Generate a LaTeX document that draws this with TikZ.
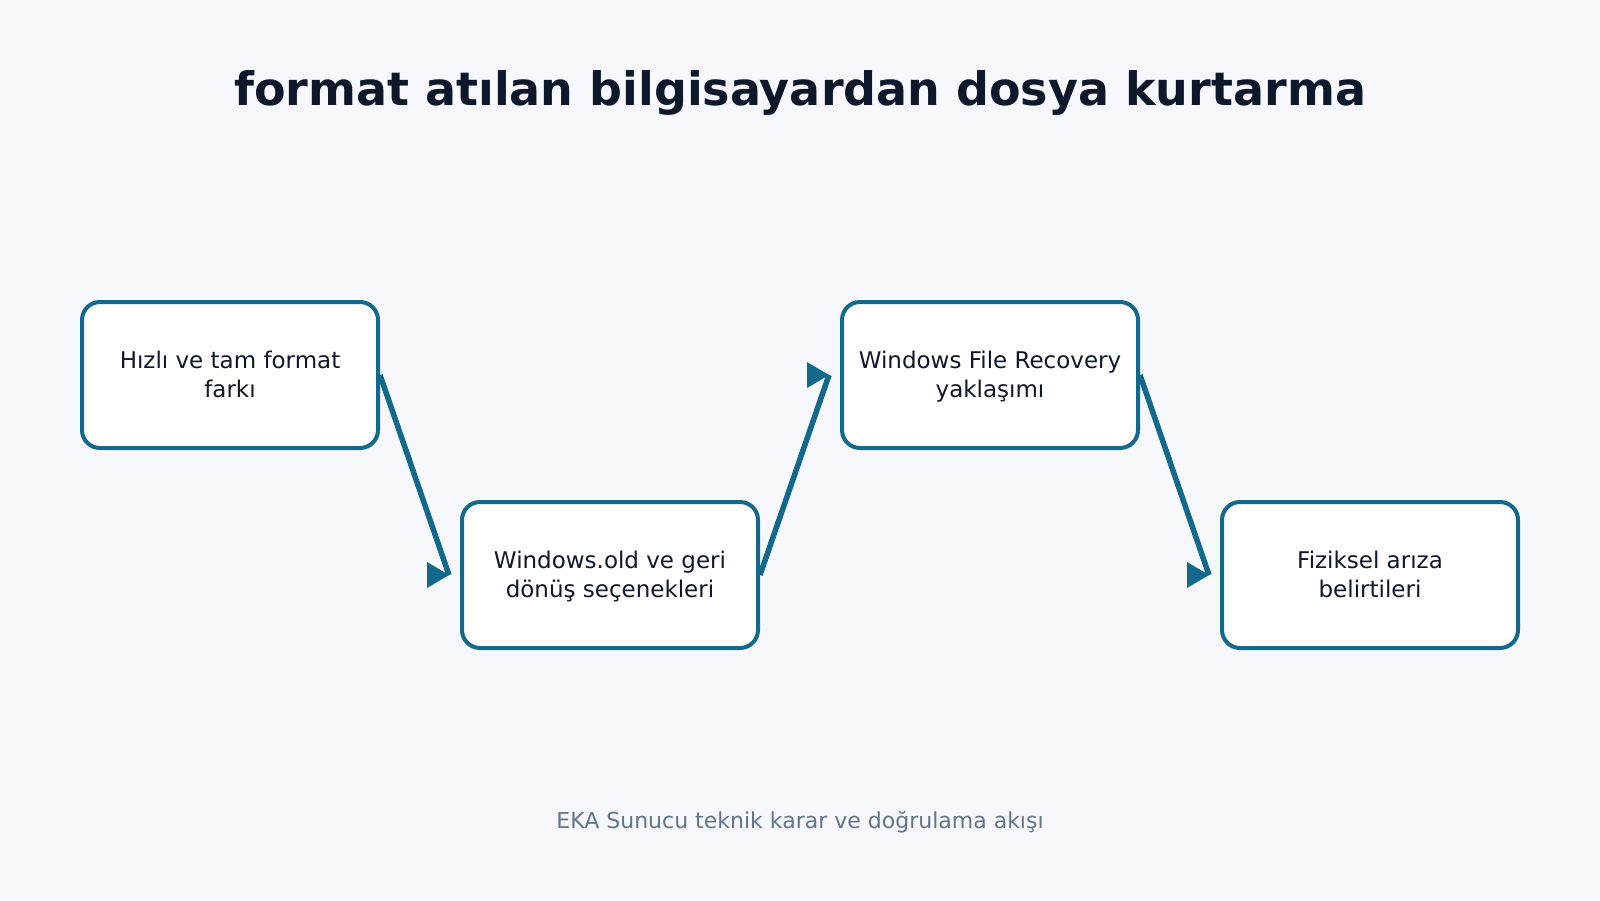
\documentclass[tikz,border=0pt]{standalone}
\usepackage{fontspec}
\setmainfont{DejaVu Sans}
\usetikzlibrary{calc}
\definecolor{bg}{HTML}{F6F8FB}
\definecolor{edge}{HTML}{12698C}
\definecolor{ink}{HTML}{0F172A}
\definecolor{muted}{HTML}{64748B}
\tikzset{
  stepbox/.style={draw=edge, line width=4pt, fill=white, rounded corners=18pt,
    minimum width=296pt, minimum height=146pt, inner sep=0pt, align=center,
    text=ink, font=\fontsize{23}{28.6}\selectfont},
  conn/.style={draw=edge, line width=5.5pt},
  tipfill/.style={fill=edge},
}
\newcommand{\bl}[2]{\rule[-8.58pt]{0pt}{32.6pt}#1\\\strut #2}
\begin{document}
\begin{tikzpicture}[x=1pt,y=-1pt]
\fill[bg] (0,0) rectangle (1600,900);
\useasboundingbox (0,0) rectangle (1600,900);
\node[font=\bfseries\fontsize{46}{54}\selectfont, text=ink] (title) at (800,93) {format atılan bilgisayardan dosya kurtarma};
\node[stepbox] (b1) at (230,375) {\bl{Hızlı ve tam format}{farkı}};
\node[stepbox] (b2) at (610,575) {\bl{Windows.old ve geri}{dönüş seçenekleri}};
\node[stepbox] (b3) at (990,375) {\bl{Windows File Recovery}{yaklaşımı}};
\node[stepbox] (b4) at (1370,575) {\bl{Fiziksel arıza}{belirtileri}};
\node[font=\fontsize{22}{27}\selectfont, text=muted] (foot) at (800,822) {EKA Sunucu teknik karar ve doğrulama akışı};
\coordinate (t1) at ($(b2.west)+(-11,0)$);
\coordinate (t2) at ($(b3.west)+(-11,0)$);
\coordinate (t3) at ($(b4.west)+(-11,0)$);
\draw[conn] (b1.east) -- (t1);
\draw[conn] (b2.east) -- (t2);
\draw[conn] (b3.east) -- (t3);
\fill[tipfill] (t1) -- ++(-22,-13) -- ++(0,26) -- cycle;
\fill[tipfill] (t2) -- ++(-22,-13) -- ++(0,26) -- cycle;
\fill[tipfill] (t3) -- ++(-22,-13) -- ++(0,26) -- cycle;
\end{tikzpicture}
\end{document}
